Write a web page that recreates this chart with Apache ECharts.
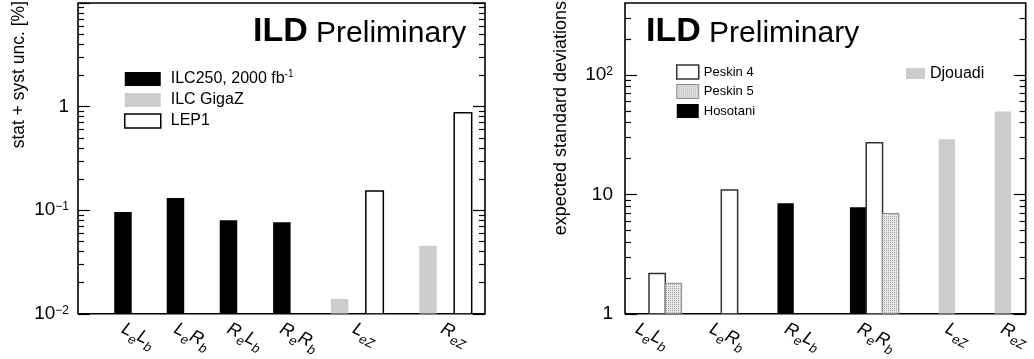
<!DOCTYPE html>
<html><head><meta charset="utf-8">
<script src="https://cdn.jsdelivr.net/npm/echarts@6/dist/echarts.min.js"></script>
<style>html,body{margin:0;padding:0;background:#fff}#c{width:1034px;height:359px}</style>
</head><body><div id="c"></div>
<script>
const FONT = '"Liberation Sans", Arial, Helvetica, sans-serif';

// ---------------- data ----------------
const categories = ['L_eL_b', 'L_eR_b', 'R_eL_b', 'R_eR_b', 'L_{eZ}', 'R_{eZ}'];
// left panel: stat + syst uncertainty [%]
const ilc250   = [0.096, 0.131, 0.080, 0.0766, null, null];
const ilcGigaZ = [null, null, null, null, 0.0139, 0.0454];
const lep1     = [null, null, null, null, 0.153, 0.87];
// right panel: expected standard deviations
const peskin4  = [2.18, 10.9, null, 27.1, null, null];
const peskin5  = [1.80, null, null, 6.92, null, null];
const hosotani = [null, null, 8.43, 7.81, null, null];
const djouadi  = [null, null, null, null, 28.9, 49.4];
// tick labels
const leftTickLabels  = [0.01, 0.1, 1];
const rightTickLabels = [1, 10, 100];

// ---------------- layout (axis units: one bar width) ----------------
const LEFT  = { catX: [2.57, 5.57, 8.6, 11.65, 15.95, 21.0], labelX: [2.55, 5.55, 8.58, 11.6, 15.75, 20.8], xMax: 23.26, yMin: 0.01, yMax: 10 };
const RIGHT = { catX: [0.97, 5.4, 9.84, 14.28, 19.72, 23.15], labelX: [0.72, 5.25, 9.85, 14.3, 19.7, 23.1], xMax: 24.55, yMin: 1, yMax: 400 };

// dotted fill for Peskin 5
const pc = document.createElement('canvas');
pc.width = 2; pc.height = 2;
const pctx = pc.getContext('2d');
pctx.fillStyle = '#e6e6e6'; pctx.fillRect(0, 0, 2, 2);
pctx.fillStyle = '#a8a8a8'; pctx.fillRect(0, 0, 1, 1);
const dotPattern = { image: pc, repeat: 'repeat' };

function catLabel(s) {
  let out = '', i = 0;
  while (i < s.length) {
    const c = s[i];
    if (c === '_') {
      let sub;
      if (s[i + 1] === '{') { const j = s.indexOf('}', i); sub = s.slice(i + 2, j); i = j + 1; }
      else { sub = s[i + 1]; i += 2; }
      out += '{s|' + sub + '}';
    } else { out += '{m|' + c + '}'; i++; }
  }
  return out;
}
function powLabel(v) {
  const e = Math.round(Math.log10(v));
  if (e === 0) return '1';
  if (e === 1) return '10';
  return '10{sup|' + (e < 0 ? '\u2212' : '') + Math.abs(e) + '}';
}

function barSeries(name, values, panel, offset, gridIdx, style) {
  const data = [];
  values.forEach((v, i) => { if (v != null) data.push([panel.catX[i] + offset, v]); });
  return {
    type: 'custom', name, coordinateSystem: 'cartesian2d',
    xAxisIndex: gridIdx, yAxisIndex: gridIdx * 4,
    itemStyle: style, data, clip: true, z: 3, silent: true,
    renderItem(params, api) {
      const x = api.value(0), y = api.value(1);
      const a = api.coord([x - 0.5, y]);
      const b = api.coord([x + 0.5, panel.yMin]);
      return {
        type: 'rect',
        shape: { x: a[0], y: a[1], width: b[0] - a[0], height: b[1] - a[1] },
        style: { fill: style.color, stroke: style.borderColor || null, lineWidth: style.borderWidth || 0 }
      };
    }
  };
}

function minorVals(lo, hi) {
  const out = [];
  for (let d = lo; d < hi; d *= 10) for (let k = 2; k <= 9; k++) out.push(+(k * d).toPrecision(3));
  return out;
}

function yAxes(grid, panel, majors, labels, margin) {
  const tickStyle = { color: '#000', width: 1.2 };
  const base = {
    type: 'log', logBase: 10, gridIndex: grid, min: panel.yMin, max: panel.yMax,
    splitLine: { show: false }, axisLine: { show: false }, axisLabel: { show: false }
  };
  const majorTick = { show: true, inside: true, length: 12, lineStyle: tickStyle, customValues: majors };
  const minorTick = { show: true, inside: true, length: 6, lineStyle: tickStyle, customValues: minorVals(panel.yMin, panel.yMax).filter(v => v < panel.yMax) };
  return [
    Object.assign({}, base, {
      position: 'left', axisTick: majorTick,
      axisLabel: {
        show: true, customValues: labels, formatter: powLabel, margin,
        color: '#000', fontSize: 19, lineHeight: 19, fontFamily: FONT,
        rich: { sup: { fontSize: 12, lineHeight: 14, verticalAlign: 'top', fontFamily: FONT, color: '#000' } }
      }
    }),
    Object.assign({}, base, { position: 'left', axisTick: minorTick }),
    Object.assign({}, base, { position: 'right', axisTick: majorTick }),
    Object.assign({}, base, { position: 'right', axisTick: minorTick })
  ];
}

function xAxis(grid, panel) {
  return {
    type: 'value', gridIndex: grid, min: 0, max: panel.xMax,
    axisLine: { show: false }, axisTick: { show: false }, splitLine: { show: false },
    axisLabel: {
      customValues: panel.labelX, rotate: -26, margin: 14, color: '#000',
      formatter: v => catLabel(categories[panel.labelX.indexOf(v)]),
      rich: {
        m: { fontSize: 18, fontStyle: 'italic', lineHeight: 27, fontFamily: FONT, color: '#000' },
        s: { fontSize: 13, fontStyle: 'italic', lineHeight: 13, verticalAlign: 'bottom', fontFamily: FONT, color: '#000' }
      }
    }
  };
}

const sBlack = { color: '#000000' };
const sGray = { color: '#cccccc' };
const sWhite = { color: '#ffffff', borderColor: '#000000', borderWidth: 1.5 };
const sWhite2 = { color: '#ffffff', borderColor: '#333333', borderWidth: 1.5 };
const sDots = { color: dotPattern, borderColor: '#8a8a8a', borderWidth: 1 };

const legendText = (fs, lh) => ({
  fontSize: fs, lineHeight: lh, fontFamily: FONT, color: '#000',
  rich: { sup: { fontSize: 10, lineHeight: 10, verticalAlign: 'top', fontFamily: FONT, color: '#000' } }
});

const ildTitle = (left) => ({
  text: '{b|ILD}{r| Preliminary}', left, top: 13, padding: 0,
  textStyle: {
    fontWeight: 'normal',
    rich: {
      b: { fontSize: 34, fontWeight: 'bold', fontFamily: FONT, color: '#000', verticalAlign: 'bottom', lineHeight: 36 },
      r: { fontSize: 30, fontWeight: 'normal', fontFamily: FONT, color: '#000', verticalAlign: 'bottom', lineHeight: 33 }
    }
  }
});

const option = {
  animation: false,
  backgroundColor: '#ffffff',
  grid: [
    { left: 78, top: 3, width: 407, height: 314, show: true, borderColor: '#000', borderWidth: 1.6, backgroundColor: 'transparent' },
    { left: 625, top: 3, width: 405, height: 314, show: true, borderColor: '#000', borderWidth: 1.6, backgroundColor: 'transparent' }
  ],
  xAxis: [xAxis(0, LEFT), xAxis(1, RIGHT)],
  yAxis: [].concat(
    yAxes(0, LEFT, [0.01, 0.1, 1, 10], leftTickLabels, 9),
    yAxes(1, RIGHT, [1, 10, 100], rightTickLabels, 12)
  ),
  title: [ildTitle(253), ildTitle(646)],
  graphic: [
    { type: 'text', x: 19.5, y: 1, rotation: Math.PI / 2,
      style: { text: 'stat + syst unc. [%]', fontSize: 17.5, fontFamily: FONT, fill: '#000', align: 'right', verticalAlign: 'middle' } },
    { type: 'text', x: 561, y: 1, rotation: Math.PI / 2,
      style: { text: 'expected standard deviations', fontSize: 18, fontFamily: FONT, fill: '#000', align: 'right', verticalAlign: 'middle' } }
  ],
  legend: [
    { data: [{ name: 'ILC250, 2000 fb-1' }, { name: 'ILC GigaZ' }, { name: 'LEP1', itemStyle: { borderWidth: 1.5 } }],
      orient: 'vertical', left: 124, top: 69, padding: 0, itemWidth: 36, itemHeight: 14, itemGap: 1, icon: 'rect',
      selectedMode: false, textStyle: Object.assign(legendText(16, 20), { padding: [0, 0, 0, 5] }),
      formatter: n => n.replace('fb-1', 'fb{sup|-1}') },
    { data: [{ name: 'Peskin 4', itemStyle: { borderWidth: 1.5 } }, { name: 'Peskin 5', itemStyle: { borderWidth: 1 } }, { name: 'Hosotani' }],
      orient: 'vertical', left: 676, top: 64, padding: 0, itemWidth: 22, itemHeight: 14, itemGap: 3.5, icon: 'rect',
      selectedMode: false, textStyle: legendText(13, 16) },
    { data: ['Djouadi'], orient: 'vertical', left: 906, top: 63.5, padding: 0, itemWidth: 19, itemHeight: 11, icon: 'rect',
      selectedMode: false, textStyle: legendText(16, 20) }
  ],
  series: [
    barSeries('ILC250, 2000 fb-1', ilc250, LEFT, 0, 0, sBlack),
    barSeries('ILC GigaZ', ilcGigaZ, LEFT, -1, 0, sGray),
    barSeries('LEP1', lep1, LEFT, 1, 0, sWhite),
    barSeries('Hosotani', hosotani, RIGHT, 0, 1, sBlack),
    barSeries('Peskin 4', peskin4, RIGHT, 1, 1, sWhite2),
    barSeries('Peskin 5', peskin5, RIGHT, 2, 1, sDots),
    barSeries('Djouadi', djouadi, RIGHT, 0, 1, sGray)
  ]
};

const chart = echarts.init(document.getElementById('c'), null, { renderer: 'canvas' });
chart.setOption(option);
</script>
</body></html>
